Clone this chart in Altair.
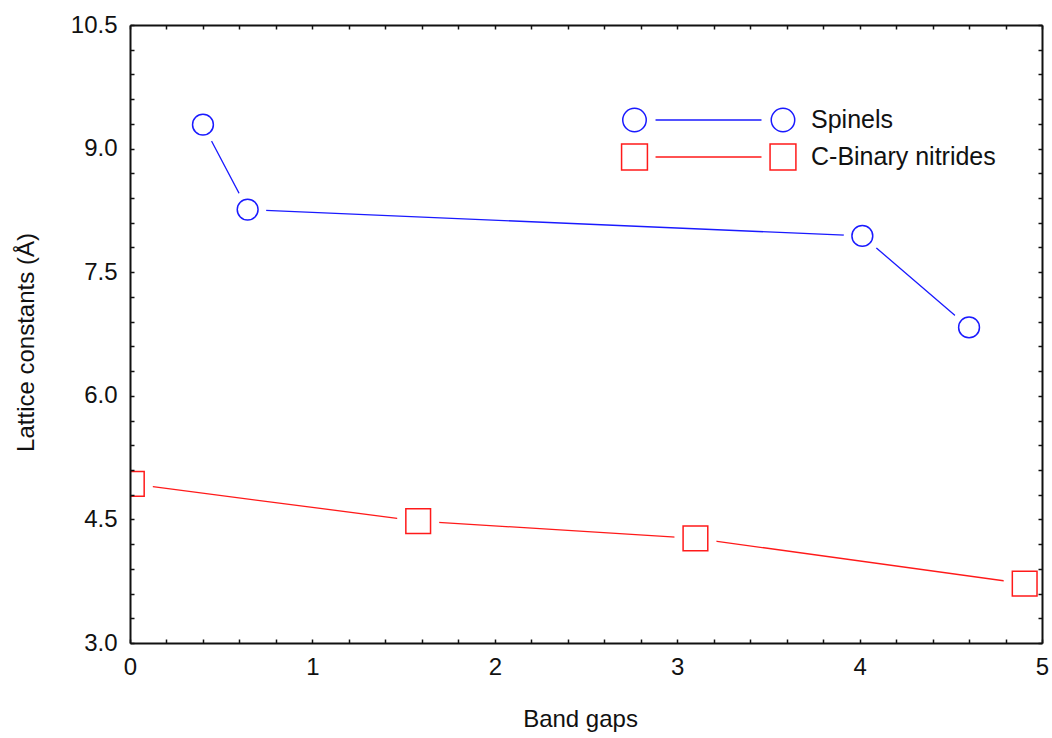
import altair as alt
import pandas as pd

# ---- data ----
series_names = ["Spinels", "C-Binary nitrides"]
spinel_x = [0.40, 0.645, 4.015, 4.60]
spinel_y = [9.29, 8.26, 7.94, 6.83]
nitride_x = [0.01, 1.58, 3.10, 4.905]
nitride_y = [4.93, 4.48, 4.27, 3.72]

x_label_values = [0, 1, 2, 3, 4, 5]
y_label_values = [3.0, 4.5, 6.0, 7.5, 9.0, 10.5]
x_tick_values = [round(i * 0.2, 1) for i in range(26)]
y_tick_values = [round(3.0 + i * 0.3, 1) for i in range(26)]

rows = []
for xv, yv in zip(spinel_x, spinel_y):
    rows.append({"series": series_names[0], "x": xv, "y": yv})
for xv, yv in zip(nitride_x, nitride_y):
    rows.append({"series": series_names[1], "x": xv, "y": yv})
df = pd.DataFrame(rows)

# ---- styles ----
F = "Liberation Sans"
INK = "#111111"
colors = ["#1a1aff", "#ff1a1a"]
TICK = 4

xs = alt.Scale(domain=[0, 5], nice=False, zero=False)
ys = alt.Scale(domain=[3.0, 10.5], nice=False, zero=False)
cs = alt.Scale(domain=series_names, range=colors)

legend_circle = ("M 1,0 A 1,1 0 1,1 -1,0 A 1,1 0 1,1 1,0 Z "
                 "M 1.79,0 L 10.81,0 "
                 "M 13.64,0 A 1,1 0 1,1 11.64,0 A 1,1 0 1,1 13.64,0 Z")
legend_square = ("M -1.1,-1.1 L 1.1,-1.1 L 1.1,1.1 L -1.1,1.1 Z "
                 "M 1.79,0 L 10.81,0 "
                 "M 11.54,-1.1 L 13.74,-1.1 L 13.74,1.1 L 11.54,1.1 Z")

# ---- axes ----
ax_x_main = alt.Axis(orient="bottom", values=x_label_values, format="d", ticks=False,
                     domain=True, domainColor=INK, domainWidth=2, grid=False,
                     labelFont=F, labelFontSize=24, labelColor=INK, labelPadding=12,
                     labelFlush=False, labelOverlap=False,
                     title="Band gaps", titleFont=F, titleFontSize=24, titleFontWeight="normal",
                     titleColor=INK, titleX=450, titleY=83.5, titleBaseline="alphabetic",
                     titleAlign="center", zindex=1)
ax_y_main = alt.Axis(orient="left", values=y_label_values, format=".1f", ticks=False,
                     domain=True, domainColor=INK, domainWidth=2, grid=False,
                     labelFont=F, labelFontSize=24, labelColor=INK, labelPadding=13,
                     labelFlush=False, labelOverlap=False,
                     title="Lattice constants (Å)", titleFont=F, titleFontSize=24,
                     titleFontWeight="normal", titleColor=INK, titleX=-97, titleY=317,
                     titleAngle=270, titleBaseline="alphabetic", titleAlign="center", zindex=1)
ax_x_ticks_b = alt.Axis(orient="bottom", values=x_tick_values, offset=-TICK, tickSize=TICK,
                        tickWidth=1.5, tickColor=INK, labels=False, domain=False,
                        grid=False, title=None, zindex=1)
ax_y_ticks_l = alt.Axis(orient="left", values=y_tick_values, offset=-TICK, tickSize=TICK,
                        tickWidth=1.5, tickColor=INK, labels=False, domain=False,
                        grid=False, title=None, zindex=1)
ax_x_top = alt.Axis(orient="top", ticks=False, labels=False, domain=True, domainColor=INK,
                    domainWidth=2, grid=False, title=None, zindex=1)
ax_y_right = alt.Axis(orient="right", ticks=False, labels=False, domain=True, domainColor=INK,
                      domainWidth=2, grid=False, title=None, zindex=1)
ax_x_ticks_t = alt.Axis(orient="top", values=x_tick_values, offset=-TICK, tickSize=TICK,
                        tickWidth=1.5, tickColor=INK, labels=False, domain=False,
                        grid=False, title=None, zindex=1)
ax_y_ticks_r = alt.Axis(orient="right", values=y_tick_values, offset=-TICK, tickSize=TICK,
                        tickWidth=1.5, tickColor=INK, labels=False, domain=False,
                        grid=False, title=None, zindex=1)

base = alt.Chart(df)
only_sp = alt.datum.series == series_names[0]
only_ni = alt.datum.series == series_names[1]

line_sp = base.transform_filter(only_sp).mark_line(
    strokeWidth=1.3, clip=True, color=colors[0]
).encode(
    x=alt.X("x:Q", scale=xs, axis=ax_x_main),
    y=alt.Y("y:Q", scale=ys, axis=ax_y_main),
)

line_ni = base.transform_filter(only_ni).mark_line(
    strokeWidth=1.3, clip=True, color=colors[1]
).encode(
    x=alt.X("x:Q", scale=xs, axis=None),
    y=alt.Y("y:Q", scale=ys, axis=None),
)

mask_c = base.transform_filter(only_sp).mark_point(
    shape="circle", filled=True, fill="white", opacity=1, strokeOpacity=0, size=1385, clip=True
).encode(
    x=alt.X("x:Q", scale=xs, axis=ax_x_ticks_b),
    y=alt.Y("y:Q", scale=ys, axis=ax_y_ticks_l),
)

mask_s = base.transform_filter(only_ni).mark_point(
    shape="square", filled=True, fill="white", opacity=1, strokeOpacity=0, size=1764, clip=True
).encode(
    x=alt.X("x:Q", scale=xs, axis=ax_x_top),
    y=alt.Y("y:Q", scale=ys, axis=ax_y_right),
)

mark_c = base.transform_filter(only_sp).mark_point(
    shape="circle", filled=False, opacity=1, size=434, strokeWidth=1.5, clip=True,
    color=colors[0]
).encode(
    x=alt.X("x:Q", scale=xs, axis=ax_x_ticks_t),
    y=alt.Y("y:Q", scale=ys, axis=ax_y_ticks_r),
)

mark_s = base.transform_filter(only_ni).mark_point(
    shape="square", filled=False, opacity=1, size=610, strokeWidth=1.5, clip=True,
    color=colors[1]
).encode(
    x=alt.X("x:Q", scale=xs, axis=None),
    y=alt.Y("y:Q", scale=ys, axis=None),
)

leg = alt.Legend(title=None, orient="none", legendX=492, legendY=82.5, symbolSize=552,
                 symbolStrokeWidth=1.5, labelFont=F, labelFontSize=25, labelColor=INK,
                 labelOffset=164, labelLimit=400, rowPadding=5, padding=0)

legend_layer = base.transform_filter("false").mark_point(
    filled=False, opacity=1, strokeWidth=1.5
).encode(
    x=alt.X("x:Q", scale=xs, axis=None),
    y=alt.Y("y:Q", scale=ys, axis=None),
    color=alt.Color("series:N", scale=cs, legend=leg),
    shape=alt.Shape("series:N", scale=alt.Scale(domain=series_names,
                                                range=[legend_circle, legend_square]),
                    legend=leg),
)

chart = alt.layer(line_sp, line_ni, mask_c, mask_s, mark_c, mark_s, legend_layer).resolve_axis(
    x="independent", y="independent"
).properties(
    width=912, height=618,
    autosize=alt.AutoSizeParams(type="none"),
    padding={"left": 130, "top": 25, "right": 10, "bottom": 95},
    background="white",
).configure_view(stroke=None)

chart.save("out.html", embed_options={"renderer": "svg", "actions": False})
